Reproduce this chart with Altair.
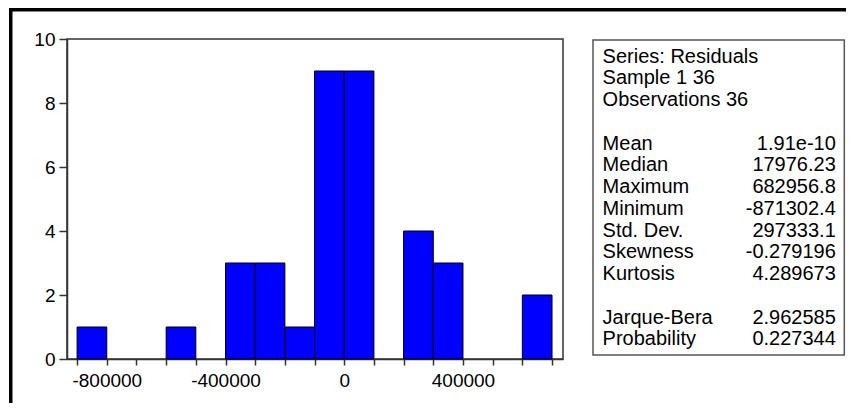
import altair as alt
import pandas as pd

# ---- histogram data (bin edges and counts) ----
bin_start = [-900000, -800000, -700000, -600000, -500000, -400000, -300000, -200000,
             -100000, 0, 100000, 200000, 300000, 400000, 500000, 600000]
bin_end = [-800000, -700000, -600000, -500000, -400000, -300000, -200000, -100000,
           0, 100000, 200000, 300000, 400000, 500000, 600000, 700000]
counts = [1, 0, 0, 1, 0, 3, 3, 1, 9, 9, 0, 4, 3, 0, 0, 2]

# ---- axis ticks / labels ----
x_tick_values = [-900000, -800000, -700000, -600000, -500000, -400000, -300000, -200000,
                 -100000, 0, 100000, 200000, 300000, 400000, 500000, 600000, 700000]
x_label_values = [-800000, -400000, 0, 400000]
x_label_texts = ["-800000", "-400000", "0", "400000"]
y_tick_values = [0, 2, 4, 6, 8, 10]

# ---- statistics box ----
stat_lines = [0, 1, 2, 4, 5, 6, 7, 8, 9, 10, 12, 13]
stat_names = ["Series: Residuals", "Sample 1 36", "Observations 36",
              "Mean", "Median", "Maximum", "Minimum", "Std. Dev.", "Skewness", "Kurtosis",
              "Jarque-Bera", "Probability"]
stat_values = ["", "", "",
               "1.91e-10", "17976.23", "682956.8", "-871302.4", "297333.1", "-0.279196", "4.289673",
               "2.962585", "0.227344"]

hist_df = pd.DataFrame({"start": bin_start, "end": bin_end, "count": counts})
stats_df = pd.DataFrame({"line": stat_lines, "name": stat_names, "value": stat_values})

FONT = "Liberation Sans"
W, H = 496, 320

label_expr = " : ".join(
    f"datum.value == {v} ? '{t}'" for v, t in zip(x_label_values, x_label_texts)
) + " : ''"

bars = alt.Chart(hist_df).transform_filter("datum.count > 0").mark_bar(
    color="#0000FF", stroke="#000000", strokeWidth=1
).encode(
    x=alt.X("start:Q", scale=alt.Scale(domain=[-934000, 737000], nice=False, zero=False),
            axis=alt.Axis(values=x_tick_values, labelExpr=label_expr, title=None, grid=False,
                          tickSize=6, labelPadding=6, labelFlush=False, labelOverlap=False)),
    x2="end:Q",
    y=alt.Y("count:Q", scale=alt.Scale(domain=[0, 10], nice=False),
            axis=alt.Axis(values=y_tick_values, title=None, grid=False, tickSize=8,
                          labelPadding=4)),
    y2=alt.datum(0),
)

one = alt.Data(values=[{}])
frame_left = alt.Chart(one).mark_rule(color="black", strokeWidth=3.5).encode(
    x=alt.value(-56.25), y=alt.value(-40), y2=alt.value(400)
)
frame_top = alt.Chart(one).mark_rule(color="black", strokeWidth=3.5).encode(
    x=alt.value(-58), x2=alt.value(820), y=alt.value(-29.25)
)

# statistics box (outside the plot area, to its right)
box = alt.Chart(one).mark_rect(
    fill="white", fillOpacity=0, stroke="#555555", strokeWidth=1.5
).encode(
    x=alt.value(526), x2=alt.value(777.3), y=alt.value(1), y2=alt.value(316)
)

ys = alt.Y("line:Q", scale=alt.Scale(domain=[13.899, -0.8138], nice=False, zero=False), axis=None)
names = alt.Chart(stats_df).mark_text(
    align="left", baseline="middle", font=FONT, fontSize=20, color="black"
).encode(y=ys, x=alt.value(535.6), text="name:N")
vals = alt.Chart(stats_df).mark_text(
    align="right", baseline="middle", font=FONT, fontSize=20, color="black"
).encode(y=ys, x=alt.value(768.8), text="value:N")

chart = alt.layer(bars, frame_left, frame_top, box, names, vals).resolve_scale(
    y="independent"
).properties(
    width=W, height=H,
    autosize=alt.AutoSizeParams(type="none"),
    padding={"left": 59, "top": 31, "right": 283, "bottom": 44},
).configure_view(
    stroke="#333333", strokeWidth=1.5
).configure_axis(
    labelFont=FONT, labelFontSize=19, labelColor="black",
    domainColor="#333333", domainWidth=1.5, tickColor="#333333", tickWidth=1.5
)

chart.save("out.html", embed_options={"renderer": "svg", "actions": False})
